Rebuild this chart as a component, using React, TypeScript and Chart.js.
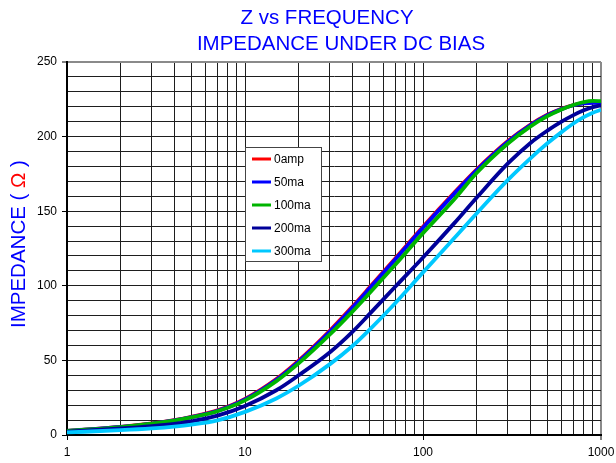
import React, { useEffect, useRef } from 'react';
import { Chart, registerables } from 'chart.js';

Chart.register(...registerables);

// ---------- data ----------
const FREQ = [1, 2, 3, 4, 5, 7, 10, 15, 20, 30, 40, 50, 70, 100, 150, 200, 300, 400, 500, 600, 700, 800, 900, 1000];

const Z_0AMP = [2.8, 5.5, 7.8, 10.0, 12.2, 16.5, 24.2, 37.5, 49.8, 70.0, 85.9, 98.8, 118.5, 139.6, 162.5, 177.9, 197.0, 207.9, 214.6, 218.7, 221.2, 222.5, 222.9, 222.8];
const Z_50MA = [2.8, 5.4, 7.7, 9.8, 12.0, 16.2, 23.8, 37.0, 49.2, 69.3, 85.2, 98.1, 117.8, 138.9, 161.8, 177.3, 196.5, 207.5, 214.3, 218.4, 221.0, 222.3, 222.7, 222.6];
const Z_100MA = [2.7, 5.35, 7.6, 9.7, 11.8, 15.9, 23.2, 36.1, 48.0, 67.4, 82.5, 95.0, 114.3, 135.3, 158.0, 175.6, 195.4, 206.7, 213.7, 218.2, 221.2, 223.1, 223.9, 223.8];
const Z_200MA = [2.3, 4.4, 6.0, 7.5, 9.2, 13.0, 19.5, 30.0, 40.0, 55.5, 69.0, 81.0, 99.5, 119.0, 142.0, 159.0, 182.0, 195.6, 204.0, 210.0, 214.4, 217.6, 219.8, 221.0];
const Z_300MA = [1.7, 3.2, 4.4, 5.6, 6.9, 9.8, 15.5, 24.5, 33.0, 47.5, 59.5, 70.5, 88.5, 109.0, 132.0, 148.5, 171.0, 185.3, 195.5, 203.0, 208.8, 213.0, 216.0, 218.0];

const SERIES_LABELS = ['0amp', '50ma', '100ma', '200ma', '300ma'];
const SERIES_VALUES = [Z_0AMP, Z_50MA, Z_100MA, Z_200MA, Z_300MA];

const X_LABEL_TICKS = [1, 10, 100, 1000];
const Y_MIN = 0;
const Y_MAX = 250;
const Y_GRID_STEP = 10;
const Y_LABEL_STEP = 50;

const TITLE_LINES = ['Z vs FREQUENCY', 'IMPEDANCE UNDER DC BIAS'];
const Y_TITLE_PARTS = ['IMPEDANCE ( ', 'Ω', ' )'];

// ---------- styles ----------
const SERIES_COLORS = ['#ff0000', '#0000ff', '#00b400', '#000099', '#00c8ff'];
const SERIES_ORDER = [5, 4, 3, 2, 1];
const FONT = '"Liberation Sans", Arial, Helvetica, sans-serif';
const GRID_COLOR = '#1e1e1e';
const EDGE_COLOR = '#8a8a8a';

const decorPlugin = {
  id: 'decor',
  afterDatasetsDraw(chart: any) {
    const ctx = chart.ctx as CanvasRenderingContext2D;
    // legend box
    const bx = 245, by = 147, bw = 76, bh = 114;
    ctx.save();
    ctx.fillStyle = '#ffffff';
    ctx.fillRect(bx, by, bw, bh);
    ctx.strokeStyle = '#444';
    ctx.lineWidth = 1;
    ctx.strokeRect(bx + 0.5, by + 0.5, bw, bh);
    ctx.font = `12px ${FONT}`;
    ctx.textBaseline = 'middle';
    ctx.textAlign = 'left';
    chart.data.datasets.forEach((ds: any, i: number) => {
      const y = by + 12 + i * 23;
      ctx.strokeStyle = ds.borderColor;
      ctx.lineWidth = 3;
      ctx.beginPath();
      ctx.moveTo(bx + 7, y);
      ctx.lineTo(bx + 26, y);
      ctx.stroke();
      ctx.fillStyle = '#000';
      ctx.fillText(ds.label, bx + 29, y + 0.5);
    });
    ctx.restore();
  },
  afterDraw(chart: any) {
    const ctx = chart.ctx as CanvasRenderingContext2D;
    ctx.save();
    ctx.font = `20.5px ${FONT}`;
    ctx.fillStyle = '#0000ff';
    ctx.textAlign = 'center';
    ctx.textBaseline = 'alphabetic';
    ctx.fillText(TITLE_LINES[0], 327, 24);
    ctx.fillText(TITLE_LINES[1], 341, 49.5);

    // rotated y title
    ctx.translate(25, 328);
    ctx.rotate(-Math.PI / 2);
    ctx.textAlign = 'left';
    let x = 0;
    const colors = ['#0000ff', '#ff0000', '#0000ff'];
    Y_TITLE_PARTS.forEach((t, i) => {
      ctx.fillStyle = colors[i];
      ctx.fillText(t, x, 0);
      x += ctx.measureText(t).width;
    });
    ctx.restore();
  },
};

export default function App() {
  const canvasRef = useRef<HTMLCanvasElement | null>(null);

  useEffect(() => {
    const canvas = canvasRef.current;
    if (!canvas) return;
    const datasets = SERIES_LABELS.map((label, i) => ({
      label,
      data: FREQ.map((f, j) => ({ x: f, y: SERIES_VALUES[i][j] })),
      borderColor: SERIES_COLORS[i],
      backgroundColor: SERIES_COLORS[i],
      borderWidth: 3.8,
      pointRadius: 0,
      fill: false,
      cubicInterpolationMode: 'monotone' as const,
      order: SERIES_ORDER[i],
    }));

    const chart = new Chart(canvas, {
      type: 'line',
      data: { datasets },
      plugins: [decorPlugin],
      options: {
        responsive: false,
        animation: false,
        events: [],
        layout: { padding: { top: 62, right: 15, left: 0, bottom: 0 } },
        plugins: {
          legend: { display: false },
          tooltip: { enabled: false },
          title: { display: false },
        },
        scales: {
          x: {
            type: 'logarithmic',
            min: 1,
            max: 1000,
            afterBuildTicks: (scale: any) => {
              const t: { value: number }[] = [];
              for (let d = 1; d < 1000; d *= 10) {
                for (let m = 1; m < 10; m++) t.push({ value: m * d });
              }
              t.push({ value: 1000 });
              scale.ticks = t;
            },
            afterFit: (scale: any) => {
              scale.height = 28;
              scale.paddingLeft = 0;
              scale.paddingRight = 0;
            },
            ticks: {
              autoSkip: false,
              maxRotation: 0,
              minRotation: 0,
              padding: 5,
              color: '#000',
              font: { family: FONT, size: 12 },
              callback: (v: any) => (X_LABEL_TICKS.includes(Number(v)) ? String(v) : ''),
            },
            grid: {
              color: (c: any) => (c.tick && c.tick.value === 1000 ? EDGE_COLOR : GRID_COLOR),
              lineWidth: (c: any) => (c.tick && c.tick.value === 1000 ? 2 : 1),
              tickLength: 5,
              tickWidth: 1,
              tickColor: (c: any) =>
                c.tick && X_LABEL_TICKS.includes(c.tick.value) ? '#000' : 'rgba(0,0,0,0)',
            },
            border: { color: '#000', width: 2 },
          },
          y: {
            type: 'linear',
            min: Y_MIN,
            max: Y_MAX,
            afterFit: (scale: any) => {
              scale.width = 67;
              scale.paddingTop = 0;
              scale.paddingBottom = 0;
            },
            ticks: {
              stepSize: Y_GRID_STEP,
              autoSkip: false,
              padding: 5,
              color: '#000',
              font: { family: FONT, size: 12 },
              callback: (v: any) => (Number(v) % Y_LABEL_STEP === 0 ? String(v) : ''),
            },
            grid: {
              color: (c: any) => (c.tick && c.tick.value === Y_MAX ? EDGE_COLOR : GRID_COLOR),
              lineWidth: (c: any) => (c.tick && c.tick.value === Y_MAX ? 2 : 1),
              tickLength: 5,
              tickWidth: 1,
              tickColor: (c: any) =>
                c.tick && c.tick.value % Y_LABEL_STEP === 0 ? '#000' : 'rgba(0,0,0,0)',
            },
            border: { color: '#000', width: 2 },
          },
        },
      },
    });
    return () => chart.destroy();
  }, []);

  return (
    <div style={{ position: 'absolute', left: 0, top: 0, width: 616, height: 463, background: '#fff' }}>
      <canvas ref={canvasRef} width={616} height={463} style={{ width: 616, height: 463, display: 'block' }} />
    </div>
  );
}
